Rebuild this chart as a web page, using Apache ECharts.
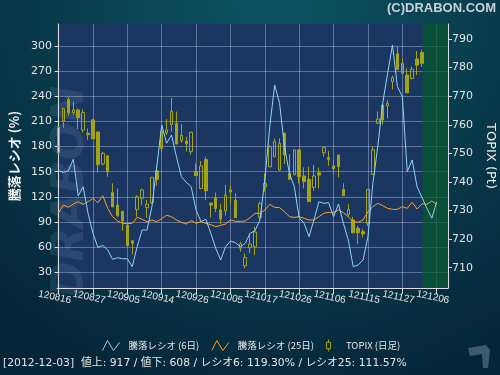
<!DOCTYPE html>
<html><head><meta charset="utf-8">
<script src="https://cdn.jsdelivr.net/npm/echarts@6/dist/echarts.min.js"></script>
<style>html,body{margin:0;padding:0;background:#062a3c}#c{width:500px;height:375px}</style>
</head><body><div id="c"></div>
<script>
// ---- data ----
const dates = [
 '2012-08-16','2012-08-17','2012-08-20','2012-08-21','2012-08-22','2012-08-23','2012-08-24','2012-08-27','2012-08-28','2012-08-29','2012-08-30','2012-08-31',
 '2012-09-03','2012-09-04','2012-09-05','2012-09-06','2012-09-07','2012-09-10','2012-09-11','2012-09-12','2012-09-13','2012-09-14','2012-09-18','2012-09-19','2012-09-20','2012-09-21','2012-09-24','2012-09-25','2012-09-26','2012-09-27','2012-09-28',
 '2012-10-01','2012-10-02','2012-10-03','2012-10-04','2012-10-05','2012-10-09','2012-10-10','2012-10-11','2012-10-12','2012-10-15','2012-10-16','2012-10-17','2012-10-18','2012-10-19','2012-10-22','2012-10-23','2012-10-24','2012-10-25','2012-10-26','2012-10-29','2012-10-30','2012-10-31',
 '2012-11-01','2012-11-02','2012-11-05','2012-11-06','2012-11-07','2012-11-08','2012-11-09','2012-11-12','2012-11-13','2012-11-14','2012-11-15','2012-11-16','2012-11-19','2012-11-20','2012-11-21','2012-11-22','2012-11-26','2012-11-27','2012-11-28','2012-11-29','2012-11-30',
 '2012-12-03','2012-12-04','2012-12-05','2012-12-06','2012-12-07','2012-12-10'
];
const tickLabels = ['120816','120827','120905','120914','120926','121005','121017','121026','121106','121115','121127','121206'];
const ratioTicks = [30,60,90,120,150,180,210,240,270,300];
const topixTicks = [710,720,730,740,750,760,770,780,790];

const ratio6 = [151.2,149.2,151.2,164.8,121.0,132.1,100.3,76.5,59.7,62.1,56.6,45.4,47.4,46.2,46.2,36.7,60.5,80.4,80.4,108.3,
 156.0,205.7,183.9,193.8,167.9,144.1,137.3,132.1,104.3,90.4,93.2,76.5,58.6,44.6,60.5,67.3,65.3,60.5,64.5,76.5,
 79.6,92.4,140.1,203.7,253.5,231.6,179.9,148.0,132.1,95.0,88.4,72.5,92.4,114.2,112.3,113.0,96.3,111.5,88.4,68.5,
 36.7,38.7,44.6,72.5,136.1,179.9,231.6,267.4,301.2,251.5,239.5,150.0,164.0,132.1,119.3,106.3,94.4,114.2];
const ratio25 = [101.1,110.3,107.5,111.5,114.2,111.1,114.2,118.2,113.0,121.4,106.3,96.3,91.2,88.4,88.0,88.4,95.5,93.2,90.4,92.4,
 90.4,94.0,98.0,96.3,92.4,89.6,87.6,91.6,88.4,90.4,88.4,86.8,84.4,86.0,87.6,92.4,90.8,90.8,91.2,95.1,
 100.3,100.3,104.3,111.1,107.5,107.1,102.3,96.3,95.5,96.3,94.4,92.4,92.4,96.3,100.3,101.5,101.5,104.3,101.1,96.3,
 90.4,89.6,92.4,102.3,108.3,112.3,109.5,106.3,105.1,105.1,108.3,106.3,113.5,105.5,111.6,111.1,115.1,111.1];

const topixOpen  = [750.2,761.3,768.9,764.2,765.2,758.2,757.0,761.7,757.5,746.3,749.1,736.3,731.9,729.7,724.9,719.4,730.4,734.3,731.0,732.7,
 743.9,751.7,757.2,760.1,760.5,754.4,754.3,750.6,743.5,737.7,747.9,732.6,734.4,730.2,729.9,737.2,733.6,716.8,710.7,717.0,
 717.3,727.6,738.3,745.3,748.8,744.2,757.0,743.0,742.6,751.2,742.1,740.9,738.1,743.2,750.2,748.5,745.6,749.4,737.4,728.7,
 726.7,723.8,722.6,725.5,742.6,760.5,766.9,766.6,775.1,784.8,778.0,777.4,776.2,783.0,785.3];
const topixClose = [759.1,765.7,764.2,765.2,762.5,764.3,756.5,755.1,746.0,750.0,743.5,731.3,728.2,726.3,717.7,718.5,734.8,737.2,732.2,741.6,
 740.9,757.8,758.2,764.8,753.3,756.3,753.4,757.4,742.2,745.6,736.9,731.9,730.7,727.0,735.4,736.5,727.5,718.3,713.6,718.3,
 722.5,732.4,739.5,752.3,754.1,753.5,749.4,740.9,751.2,741.8,740.1,733.1,742.1,742.4,752.0,747.9,744.7,745.3,735.2,730.4,
 722.2,722.2,721.8,737.4,751.2,762.0,761.7,767.5,776.5,779.4,781.5,771.2,779.4,780.9,781.5];
const topixLow   = [749.8,759.0,763.1,763.4,758.5,757.2,754.7,755.0,743.2,745.8,741.8,731.2,727.8,722.9,717.6,714.7,727.8,731.8,727.5,732.5,
 738.7,750.2,756.4,757.6,753.2,753.7,750.6,749.6,742.1,737.5,733.7,727.6,729.4,725.3,728.2,732.3,727.4,715.6,709.8,715.0,
 714.4,727.0,736.6,745.1,748.6,743.9,746.3,740.8,742.3,739.5,737.7,733.0,736.9,737.7,748.8,745.7,742.8,741.6,735.1,727.8,
 722.1,718.2,720.6,724.6,742.5,760.3,760.1,762.2,772.4,779.2,777.8,771.1,775.9,777.4,780.3];
const topixHigh  = [759.5,765.9,769.6,768.1,765.7,765.4,758.7,762.0,757.6,750.5,749.4,739.5,737.7,729.8,725.0,719.7,735.4,737.7,733.7,741.7,
 745.7,759.9,762.0,769.4,764.6,760.3,755.8,757.5,746.5,747.3,748.8,732.7,736.3,732.3,738.9,738.7,736.1,719.1,715.0,722.0,
 724.3,733.1,743.0,752.9,755.2,755.2,757.3,749.7,751.4,751.5,745.1,745.3,745.9,745.0,752.6,750.8,747.7,749.5,739.5,732.2,
 727.8,724.6,723.5,737.5,752.3,764.6,767.3,768.7,777.2,787.6,783.2,779.7,780.3,785.8,786.2];

const statusDate = '2012-12-03';
const advances = 917, declines = 608, ratio6Last = 119.30, ratio25Last = 111.57;

// ---- build ----
const lastIdx = dates.indexOf(statusDate);
const tickIdx = tickLabels.map(t => dates.findIndex(d => d.slice(2).replace(/-/g, '') === t));
const labelOf = {};
tickIdx.forEach((i, k) => labelOf[i] = tickLabels[k]);

const r6Data = ratio6.map((v, i) => [i, v]);
const r25Data = ratio25.map((v, i) => [i, v]);
const candleData = topixOpen.map((o, i) => [i, o, topixClose[i], topixLow[i], topixHigh[i]]);

const axisColor = '#d8dde6';
const labelFont = 'DejaVu Sans';
const olive = '#a3a316';

const chart = echarts.init(document.getElementById('c'), null, {renderer: 'canvas'});
chart.setOption({
  animation: false,
  backgroundColor: new echarts.graphic.RadialGradient(0.55, 0, 1.1, [
    {offset: 0, color: '#0c5464'}, {offset: 0.45, color: '#09404f'},
    {offset: 0.8, color: '#072f41'}, {offset: 1, color: '#052538'}]),
  grid: {left: 57, right: 52, top: 24, bottom: 87, show: true, backgroundColor: '#1c3662', borderWidth: 0, outerBoundsMode: 'none'},
  legend: {
    left: 95, top: 332, itemWidth: 17, itemHeight: 12, itemGap: 10,
    textStyle: {color: '#e8e8e8', fontSize: 9.5, fontFamily: 'Noto Sans CJK JP', padding: [0, 0, 0, 4]},
    data: [
      {name: '騰落レシオ (6日)', icon: 'path://M0,11L5,1L11,11L17,3', itemStyle: {color: 'none', borderColor: '#8dd3f7', borderWidth: 1}},
      {name: '騰落レシオ (25日)', icon: 'path://M0,11L5,1L11,11L17,3', itemStyle: {color: 'none', borderColor: '#ffa31a', borderWidth: 1}},
      {name: 'TOPIX (日足)', icon: 'path://M3.5,0L3.5,3.5M1,3.5L6,3.5L6,11.5L1,11.5ZM3.5,11.5L3.5,15', itemStyle: {color: 'none', borderColor: olive, borderWidth: 1}}
    ]
  },
  xAxis: {
    type: 'value', min: -0.326, max: 79.3,
    axisLine: {show: true, lineStyle: {color: axisColor, width: 1}},
    axisTick: {show: true, customValues: tickIdx, length: 6, lineStyle: {color: axisColor}},
    axisLabel: {customValues: tickIdx, formatter: v => labelOf[Math.round(v)] || '', rotate: -12, align: 'center', verticalAlign: 'middle',
      margin: 10, padding: [0, 8, 0, 0], color: '#e4e4e4', fontSize: 10, fontFamily: 'Liberation Sans'},
    splitLine: {show: true, lineStyle: {color: 'rgba(190,202,228,0.42)', width: 1}}
  },
  yAxis: [{
    type: 'value', position: 'left', min: 11.25, max: 326.2,
    name: '騰落レシオ (%)', nameLocation: 'middle', nameGap: 33,
    nameTextStyle: {color: '#f0f0f0', fontSize: 13, fontWeight: 'bold', fontFamily: 'Noto Sans CJK JP'},
    axisLine: {show: true, lineStyle: {color: axisColor}},
    axisTick: {show: true, customValues: ratioTicks, length: 4, lineStyle: {color: axisColor}},
    axisLabel: {customValues: ratioTicks, color: '#e2e2e2', fontSize: 11, fontFamily: labelFont, margin: 5},
    splitLine: {show: true, lineStyle: {color: 'rgba(190,202,228,0.42)', width: 1}}
  }, {
    type: 'value', position: 'right', min: 702.9, max: 795.25,
    name: 'TOPIX (Pt)', nameLocation: 'middle', nameGap: 33, nameRotate: -90,
    nameTextStyle: {color: '#f0f0f0', fontSize: 13, fontFamily: labelFont},
    axisLine: {show: true, lineStyle: {color: axisColor}},
    axisTick: {show: true, customValues: topixTicks, length: 4, lineStyle: {color: axisColor}},
    axisLabel: {customValues: topixTicks, color: '#e2e2e2', fontSize: 11, fontFamily: labelFont, margin: 4},
    splitLine: {show: false}
  }],
  series: [{
    name: 'TOPIX (日足)', type: 'candlestick', xAxisIndex: 0, yAxisIndex: 1, barWidth: 3,
    encode: {x: 0, y: [1, 2, 3, 4]},
    itemStyle: {color: 'transparent', color0: olive, borderColor: olive, borderColor0: olive, borderWidth: 1},
    data: candleData,
    markArea: {silent: true, itemStyle: {color: 'rgba(3,88,40,0.72)'},
      data: [[{xAxis: lastIdx + 0.1}, {xAxis: 79.3}]]}
  }, {
    name: '騰落レシオ (6日)', type: 'line', yAxisIndex: 0, symbol: 'none', data: r6Data,
    lineStyle: {color: '#8dd3f7', width: 1}, itemStyle: {color: '#8dd3f7'}, z: 4
  }, {
    name: '騰落レシオ (25日)', type: 'line', yAxisIndex: 0, symbol: 'none', data: r25Data,
    lineStyle: {color: '#ffa31a', width: 1}, itemStyle: {color: '#ffa31a'}, z: 3
  }],
  graphic: [
    {type: 'text', z: 0, silent: true, rotation: Math.PI / 2, position: [50, 298],
     style: {text: 'DRABON', fill: 'rgba(120,160,180,0.17)', font: 'italic 900 44px "DejaVu Sans"'}},
    {type: 'text', right: 4, top: 2, style: {text: '(C)DRABON.COM', fill: '#c9d1d5', font: 'bold 13px "Liberation Sans"'}},
    {type: 'text', left: 3, top: 358, style: {text: '[' + statusDate + ']  値上: ' + advances + ' / 値下: ' + declines +
      ' / レシオ6: ' + ratio6Last.toFixed(2) + '% / レシオ25: ' + ratio25Last.toFixed(2) + '%', fill: '#e6e6e6', font: '10.8px "DejaVu Sans", "Noto Sans CJK JP"'}},
    {type: 'polygon', silent: true, shape: {points: [[468,348],[486,345],[490,350],[488,368],[483,368],[482,354],[470,356]]},
     style: {fill: '#3f5a6a'}}
  ]
});
</script></body></html>
